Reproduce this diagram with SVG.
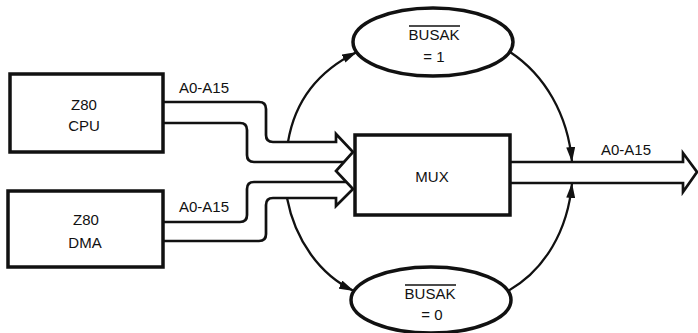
<svg xmlns="http://www.w3.org/2000/svg" width="698" height="333" viewBox="0 0 698 333">
<style>
.box{fill:#fff;stroke:#111;stroke-width:3.5}
.bus{fill:none;stroke:#111;stroke-width:2.7;stroke-linejoin:miter}
.arc{fill:none;stroke:#111;stroke-width:2.3}
text{font-family:"Liberation Sans",Arial,sans-serif;font-size:15px;fill:#111;text-anchor:middle}
.ov{stroke:#111;stroke-width:1.4}
</style>
<defs>
<marker id="ah" markerUnits="userSpaceOnUse" markerWidth="15" markerHeight="9" refX="15" refY="4.5" orient="auto">
<path d="M0,0 L15,4.5 L0,9 z" fill="#111"/>
</marker>
</defs>
<rect width="698" height="333" fill="#fff"/>
<g id="connectors">
<path class="bus" d="M163,102 H259 Q266,102 266,109 V135 Q266,142 273,142 H336 V134 L353,152 L336,171 L353,189 L336,206 V198 H273 Q266,198 266,205 V234 Q266,241 259,241 H163"/>
<path class="bus" d="M163,123 H240 Q247,123 247,130 V155 Q247,162 254,162 H344"/>
<path class="bus" d="M163,222 H240 Q247,222 247,215 V189 Q247,182 254,182 H346"/>
<path class="bus" d="M510,162 H683 V153 L697,172 L683,192 V183 H510"/>
<path class="arc" d="M288,142 C295,100 320,70 357,52" marker-end="url(#ah)"/>
<path class="arc" d="M287,198 C295,240 320,275 354,291" marker-end="url(#ah)"/>
<path class="arc" d="M510,52 C545,75 568,115 572,162" marker-end="url(#ah)"/>
<path class="arc" d="M508,291 C545,270 568,230 572,183" marker-end="url(#ah)"/>
<text x="204" y="93">A0-A15</text>
<text x="204" y="212">A0-A15</text>
<text x="626" y="155">A0-A15</text>
</g>
<g id="cpu">
<rect class="box" x="10" y="74" width="153" height="78"/>
<text x="84" y="110">Z80</text>
<text x="84" y="131">CPU</text>
</g>
<g id="dma">
<rect class="box" x="8" y="191" width="155" height="76"/>
<text x="86" y="225">Z80</text>
<text x="85" y="248">DMA</text>
</g>
<g id="mux">
<rect class="box" x="355" y="135" width="155" height="80"/>
<text x="432" y="182">MUX</text>
</g>
<g id="busak1">
<ellipse class="box" cx="433" cy="42" rx="80" ry="34"/>
<line class="ov" x1="409" y1="26" x2="460" y2="26"/>
<text x="434" y="40">BUSAK</text>
<text x="434" y="62">= 1</text>
</g>
<g id="busak0">
<ellipse class="box" cx="431" cy="300" rx="80" ry="33"/>
<line class="ov" x1="405" y1="285" x2="456" y2="285"/>
<text x="430" y="299">BUSAK</text>
<text x="432" y="320">= 0</text>
</g>
</svg>
